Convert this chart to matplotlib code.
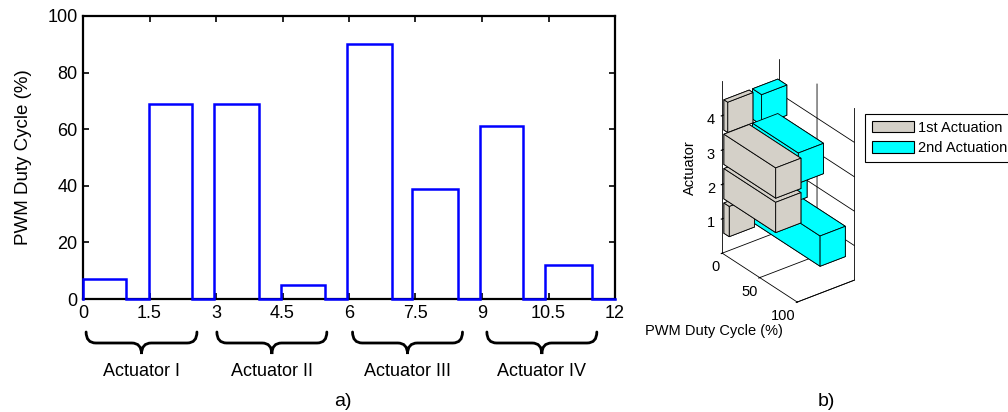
import numpy as np
import matplotlib
matplotlib.use('Agg')
import matplotlib.pyplot as plt
from matplotlib.patches import Patch, PathPatch
from matplotlib.path import Path
import matplotlib.transforms as mtransforms

plt.rcParams['font.family'] = ['Liberation Sans', 'DejaVu Sans']
plt.rcParams['grid.color'] = 'k'
plt.rcParams['grid.linewidth'] = 0.6
plt.rcParams['grid.linestyle'] = '-'

# ---------------- data ----------------
pulse_on = [0.0, 1.49, 2.96, 4.47, 5.95, 7.43, 8.95, 10.43]
pulse_off = [0.96, 2.45, 3.96, 5.45, 6.98, 8.45, 9.93, 11.47]
duty = [7, 69, 69, 5, 90, 39, 61, 12]
t_end = 12
xticks = [0, 1.5, 3, 4.5, 6, 7.5, 9, 10.5, 12]
xticklabels = ['0', '1.5', '3', '4.5', '6', '7.5', '9', '10.5', '12']
yticks = [0, 20, 40, 60, 80, 100]
group_labels = ['Actuator I', 'Actuator II', 'Actuator III', 'Actuator IV']
group_start = [0.07, 3.02, 6.08, 9.11]
group_end = [2.57, 5.50, 8.56, 11.59]

actuators = [1, 2, 3, 4]
first_act = [7, 69, 69, 5]
second_act = [90, 39, 61, 12]
series_labels = ['1st Actuation', '2nd Actuation']
series_colors = ['#D4D0C8', '#00FFFF']
pwm_ticks = [0, 50, 100]

W, H = 1008, 412
FS = 13
fig = plt.figure(figsize=(W / 100, H / 100), dpi=100)

# ---------------- panel a ----------------
ax = fig.add_axes([83 / W, 1 - 299 / H, 532 / W, 283 / H])
xs, ys = [0.0], [0.0]
for on, off, d in zip(pulse_on, pulse_off, duty):
    xs += [on, on, off, off]
    ys += [0, d, d, 0]
xs.append(t_end)
ys.append(0)
ax.plot(xs, ys, color='#0000FF', lw=1.8, zorder=3, clip_on=False,
        solid_joinstyle='miter')
ax.set_xlim(0, 12)
ax.set_ylim(0, 100)
ax.set_xticks(xticks)
ax.set_xticklabels(xticklabels)
ax.set_yticks(yticks)
ax.tick_params(direction='in', length=4, width=1.2, top=True, right=True,
               labelsize=FS, pad=4, colors='k')
for s in ax.spines.values():
    s.set_linewidth(1.6)
ax.set_ylabel('PWM Duty Cycle (%)', fontsize=FS + 0.5, labelpad=11)

# braces below axis
trans = mtransforms.blended_transform_factory(ax.transData, fig.transFigure)
y_top = 1 - 332 / H
y_mid = 1 - 343 / H
y_tip = 1 - 354 / H
for x0, x1, lab in zip(group_start, group_end, group_labels):
    xc = 0.5 * (x0 + x1)
    r = 0.22
    codes = [Path.MOVETO, Path.CURVE3, Path.CURVE3,
             Path.LINETO, Path.CURVE3, Path.CURVE3,
             Path.CURVE3, Path.CURVE3,
             Path.LINETO, Path.CURVE3, Path.CURVE3]
    verts = [(x0, y_top), (x0, y_mid), (x0 + r, y_mid),
             (xc - r, y_mid), (xc, y_mid), (xc, y_tip),
             (xc, y_mid), (xc + r, y_mid),
             (x1 - r, y_mid), (x1, y_mid), (x1, y_top)]
    pp = PathPatch(Path(verts, codes), transform=trans, fill=False,
                   lw=2.0, color='k', clip_on=False, capstyle='round')
    fig.add_artist(pp)
    fig.text(xc, 1 - 372 / H, lab, transform=trans, ha='center', va='center',
             fontsize=FS)

fig.text(343 / W, 1 - 401 / H, 'a)', ha='center', va='center', fontsize=FS + 1)
fig.text(826 / W, 1 - 401 / H, 'b)', ha='center', va='center', fontsize=FS + 1)

# ---------------- panel b (3D) ----------------
S = 250
cx, cy = 785, 184
ax3 = fig.add_axes([(cx - S / 2) / W, 1 - (cy + S / 2) / H, S / W, S / H],
                   projection='3d')
ax3.set_proj_type('ortho')
ax3.view_init(elev=30, azim=-37.5)
ax3.set_box_aspect((123.2, 72.2, 198.6), zoom=0.95)

bw = 0.88
for k, (vals, col) in enumerate(zip([first_act, second_act], series_colors)):
    yc = k + 1
    ax3.bar3d([0] * len(actuators), [yc - bw / 2] * len(actuators),
              [a - bw / 2 for a in actuators], vals, [bw] * len(actuators),
              [bw] * len(actuators), color=col, edgecolor='k', linewidth=0.6,
              shade=False)

ax3.set_xlim(0, 100)
ax3.set_ylim(0.5, 2.5)
ax3.set_zlim(0, 5)
ax3.set_xticks(pwm_ticks)
ax3.set_yticks([])
ax3.set_zticks(actuators)
ax3.tick_params(labelsize=10.5)
ax3.tick_params(axis='z', pad=0)
ax3.tick_params(axis='x', pad=-4.5)
for lab in ax3.xaxis.get_ticklabels():
    lab.set_ha('right')
ax3.zaxis.set_ticks_position('lower')
for axis in (ax3.xaxis, ax3.yaxis, ax3.zaxis):
    axis.set_pane_color((1, 1, 1, 0))
    axis.pane.set_edgecolor('none')
    axis.line.set_color('k')
    axis.line.set_linewidth(0.6)
    axis._axinfo['grid'].update(color='k', linewidth=0.6)

fig.text(690 / W, 1 - 168 / H, 'Actuator', rotation=90, ha='center',
         va='center', fontsize=10.5)
fig.text(714 / W, 1 - 331 / H, 'PWM Duty Cycle (%)', ha='center',
         va='center', fontsize=10.5)

handles = [Patch(facecolor=c, edgecolor='k', linewidth=0.8) for c in series_colors]
leg = fig.legend(handles, series_labels, loc='upper left',
                 bbox_to_anchor=(865 / W, 1 - 114 / H), fontsize=10.5,
                 frameon=True, fancybox=False, framealpha=1, edgecolor='k',
                 handlelength=2.9, handleheight=0.8, handletextpad=0.3,
                 labelspacing=0.45, borderpad=0.45, borderaxespad=0)
leg.get_frame().set_linewidth(0.8)

fig.savefig('out.png', dpi=100)
